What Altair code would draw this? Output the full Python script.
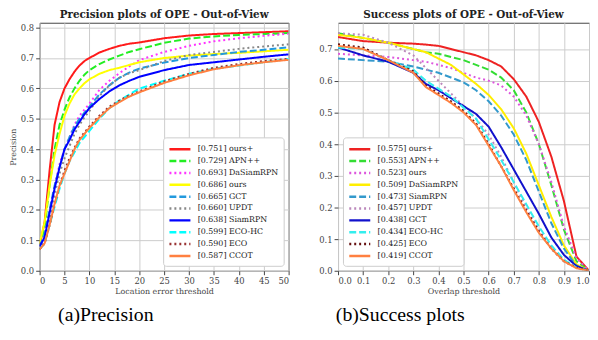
import altair as alt
import pandas as pd

# ---------------- Precision plot data ----------------
prec_x = [0, 1, 2, 3, 4, 5, 6, 7, 8, 9, 10, 12, 14, 16, 18, 20, 25, 30, 35, 40, 45, 50]
prec_labels = ["[0.751] ours+", "[0.729] APN++", "[0.693] DaSiamRPN", "[0.686] ours",
               "[0.665] GCT", "[0.660] UPDT", "[0.638] SiamRPN", "[0.599] ECO-HC",
               "[0.590] ECO", "[0.587] CCOT"]
prec_ours_plus = [0.08, 0.16, 0.33, 0.48, 0.555, 0.60, 0.63, 0.655, 0.675, 0.69, 0.70, 0.718, 0.73, 0.74, 0.747, 0.751, 0.765, 0.774, 0.779, 0.782, 0.785, 0.788]
prec_apn = [0.08, 0.14, 0.28, 0.40, 0.48, 0.53, 0.57, 0.60, 0.625, 0.645, 0.66, 0.68, 0.695, 0.708, 0.72, 0.729, 0.75, 0.764, 0.771, 0.776, 0.779, 0.782]
prec_dasiam = [0.08, 0.12, 0.20, 0.28, 0.35, 0.40, 0.44, 0.48, 0.51, 0.53, 0.55, 0.595, 0.625, 0.65, 0.672, 0.693, 0.72, 0.74, 0.755, 0.765, 0.773, 0.78]
prec_ours = [0.09, 0.16, 0.28, 0.38, 0.45, 0.51, 0.55, 0.58, 0.60, 0.617, 0.63, 0.648, 0.66, 0.668, 0.677, 0.686, 0.70, 0.708, 0.713, 0.717, 0.722, 0.727]
prec_gct = [0.08, 0.12, 0.20, 0.28, 0.34, 0.40, 0.44, 0.475, 0.50, 0.52, 0.54, 0.58, 0.61, 0.635, 0.652, 0.665, 0.685, 0.70, 0.71, 0.72, 0.727, 0.735]
prec_updt = [0.07, 0.10, 0.17, 0.25, 0.32, 0.37, 0.41, 0.45, 0.48, 0.505, 0.525, 0.575, 0.61, 0.635, 0.65, 0.66, 0.69, 0.71, 0.72, 0.73, 0.738, 0.745]
prec_siamrpn = [0.08, 0.11, 0.19, 0.27, 0.34, 0.40, 0.43, 0.465, 0.49, 0.515, 0.535, 0.565, 0.59, 0.61, 0.625, 0.638, 0.66, 0.677, 0.686, 0.695, 0.704, 0.712]
prec_ecohc = [0.07, 0.09, 0.15, 0.21, 0.27, 0.32, 0.36, 0.39, 0.42, 0.44, 0.46, 0.50, 0.535, 0.56, 0.58, 0.599, 0.625, 0.648, 0.665, 0.675, 0.686, 0.697]
prec_eco = [0.07, 0.09, 0.15, 0.22, 0.28, 0.33, 0.37, 0.405, 0.435, 0.455, 0.475, 0.51, 0.54, 0.56, 0.577, 0.59, 0.623, 0.648, 0.668, 0.68, 0.69, 0.697]
prec_ccot = [0.07, 0.09, 0.15, 0.22, 0.28, 0.32, 0.36, 0.40, 0.43, 0.45, 0.47, 0.505, 0.535, 0.555, 0.573, 0.587, 0.618, 0.643, 0.663, 0.676, 0.686, 0.694]
prec_series = [prec_ours_plus, prec_apn, prec_dasiam, prec_ours, prec_gct, prec_updt,
               prec_siamrpn, prec_ecohc, prec_eco, prec_ccot]
prec_colors = ["#ff1a1a", "#22ee22", "#ff33ff", "#ffff00", "#2299dd", "#888888",
               "#0000ff", "#00ffff", "#993333", "#ff8040"]

# ---------------- Success plot data ----------------
succ_x = [0.0, 0.1, 0.2, 0.3, 0.35, 0.4, 0.45, 0.5, 0.55, 0.6, 0.65, 0.7, 0.75, 0.8, 0.85, 0.9, 0.95, 1.0]
succ_labels = ["[0.575] ours+", "[0.553] APN++", "[0.523] ours", "[0.509] DaSiamRPN",
               "[0.473] SiamRPN", "[0.457] UPDT", "[0.438] GCT", "[0.434] ECO-HC",
               "[0.425] ECO", "[0.419] CCOT"]
succ_ours_plus = [0.738, 0.725, 0.72, 0.717, 0.714, 0.71, 0.70, 0.69, 0.68, 0.665, 0.645, 0.605, 0.55, 0.47, 0.36, 0.22, 0.045, 0.0]
succ_apn = [0.75, 0.735, 0.72, 0.70, 0.69, 0.685, 0.675, 0.665, 0.65, 0.635, 0.61, 0.57, 0.50, 0.40, 0.27, 0.13, 0.03, 0.0]
succ_ours = [0.685, 0.68, 0.675, 0.665, 0.66, 0.65, 0.64, 0.625, 0.61, 0.60, 0.585, 0.55, 0.49, 0.40, 0.28, 0.14, 0.04, 0.0]
succ_dasiam = [0.745, 0.735, 0.72, 0.70, 0.69, 0.67, 0.65, 0.62, 0.59, 0.555, 0.51, 0.45, 0.37, 0.27, 0.17, 0.08, 0.02, 0.0]
succ_siamrpn = [0.67, 0.665, 0.66, 0.645, 0.635, 0.625, 0.61, 0.595, 0.57, 0.535, 0.49, 0.43, 0.35, 0.25, 0.15, 0.07, 0.015, 0.0]
succ_updt = [0.75, 0.745, 0.72, 0.68, 0.64, 0.60, 0.56, 0.52, 0.48, 0.43, 0.36, 0.28, 0.20, 0.13, 0.07, 0.03, 0.01, 0.0]
succ_gct = [0.705, 0.68, 0.66, 0.625, 0.59, 0.57, 0.545, 0.52, 0.495, 0.455, 0.39, 0.32, 0.25, 0.18, 0.105, 0.05, 0.015, 0.0]
succ_ecohc = [0.705, 0.70, 0.665, 0.635, 0.60, 0.575, 0.55, 0.515, 0.48, 0.415, 0.35, 0.28, 0.21, 0.14, 0.08, 0.035, 0.01, 0.0]
succ_eco = [0.715, 0.705, 0.665, 0.63, 0.585, 0.56, 0.535, 0.505, 0.465, 0.40, 0.33, 0.26, 0.19, 0.125, 0.07, 0.03, 0.01, 0.0]
succ_ccot = [0.71, 0.70, 0.665, 0.625, 0.58, 0.555, 0.53, 0.50, 0.46, 0.395, 0.33, 0.255, 0.185, 0.12, 0.07, 0.03, 0.008, 0.0]
succ_series = [succ_ours_plus, succ_apn, succ_ours, succ_dasiam, succ_siamrpn, succ_updt,
               succ_gct, succ_ecohc, succ_eco, succ_ccot]
succ_colors = ["#ee2222", "#33dd33", "#dd55dd", "#ffee00", "#3399cc", "#bb88bb",
               "#1111cc", "#33eeee", "#661111", "#ff8040"]

captions = ["(a)Precision", "(b)Success plots"]

# line styles by rank: solid, dashed, dotted, ...
dash_styles = [[1, 0], [7, 3], [2, 3], [1, 0], [7, 3], [2, 3], [1, 0], [7, 3], [2, 3], [1, 0]]

SERIF = "DejaVu Serif"
H = 251


def make_df(xs, labels, series):
    rows = []
    for lab, ys in zip(labels, series):
        for i, (x, y) in enumerate(zip(xs, ys)):
            rows.append({"x": x, "y": y, "label": lab, "order": i})
    return pd.DataFrame(rows)


def panel(df, labels, colors, title, xdom, ydom, xticks, yticks, xtitle, ytitle,
          legend_orient, caption, cap_x, width):
    lines = alt.Chart(df).mark_line(strokeWidth=2, clip=True, strokeCap="butt").encode(
        x=alt.X("x:Q", scale=alt.Scale(domain=xdom, nice=False, zero=False),
                axis=alt.Axis(values=xticks, title=xtitle, format=".1f" if xdom[1] <= 1 else "d")),
        y=alt.Y("y:Q", scale=alt.Scale(domain=ydom, nice=False),
                axis=alt.Axis(values=yticks, title=ytitle, format=".1f")),
        color=alt.Color("label:N", scale=alt.Scale(domain=labels, range=colors),
                        legend=alt.Legend(title=None, orient=legend_orient)),
        strokeDash=alt.StrokeDash("label:N", scale=alt.Scale(domain=labels, range=dash_styles),
                                  legend=alt.Legend(title=None, orient=legend_orient)),
        order="order:Q",
    )
    cap = alt.Chart(pd.DataFrame({"t": [caption]})).mark_text(
        font="Liberation Serif", fontSize=20, color="#000", baseline="middle", align="center"
    ).encode(text="t:N", x=alt.value(cap_x), y=alt.value(H + 45))
    return alt.layer(lines, cap).properties(
        width=width, height=H,
        title=alt.TitleParams(title, font=SERIF, fontSize=10.5, fontWeight="bold",
                              color="#222", offset=2),
    )


prec_df = make_df(prec_x, prec_labels, prec_series)
succ_df = make_df(succ_x, succ_labels, succ_series)

left = panel(prec_df, prec_labels, prec_colors, "Precision plots of OPE - Out-of-View",
             [0, 50], [0, 0.816], list(range(0, 51, 5)),
             [0.0, 0.1, 0.2, 0.3, 0.4, 0.5, 0.6, 0.7, 0.8],
             "Location error threshold", "Precision", "bottom-right", captions[0], 67, 252)
right = panel(succ_df, succ_labels, succ_colors, "Success plots of OPE - Out-of-View",
              [0, 1], [0, 0.783], [round(i * 0.1, 1) for i in range(11)],
              [0.0, 0.1, 0.2, 0.3, 0.4, 0.5, 0.6, 0.7],
              "Overlap threshold", None, "bottom-left", captions[1], 63, 254)

chart = alt.hconcat(left, right, spacing=28).resolve_scale(
    color="independent", strokeDash="independent"
).resolve_legend(
    color="independent", strokeDash="independent"
).configure(
    padding=0, background="white"
).configure_view(
    stroke="#444", strokeWidth=1
).configure_axis(
    labelFont=SERIF, labelFontSize=8.5, labelColor="#444",
    titleFont=SERIF, titleFontSize=8, titleFontWeight="normal", titleColor="#444",
    gridColor="#cccccc", gridWidth=1, domain=False,
    tickColor="#444", tickSize=4, labelPadding=2, titlePadding=3,
).configure_legend(
    labelFont=SERIF, labelFontSize=8, labelColor="#222",
    symbolType="M-1.9,0H1.9", symbolStrokeWidth=2.5, symbolSize=125,
    symbolOffset=5, labelOffset=11,
    fillColor="white", strokeColor="#cccccc", cornerRadius=3,
    padding=5, offset=5, rowPadding=0, labelLimit=200,
)

chart.save("out.html", embed_options={"renderer": "svg", "actions": False})
